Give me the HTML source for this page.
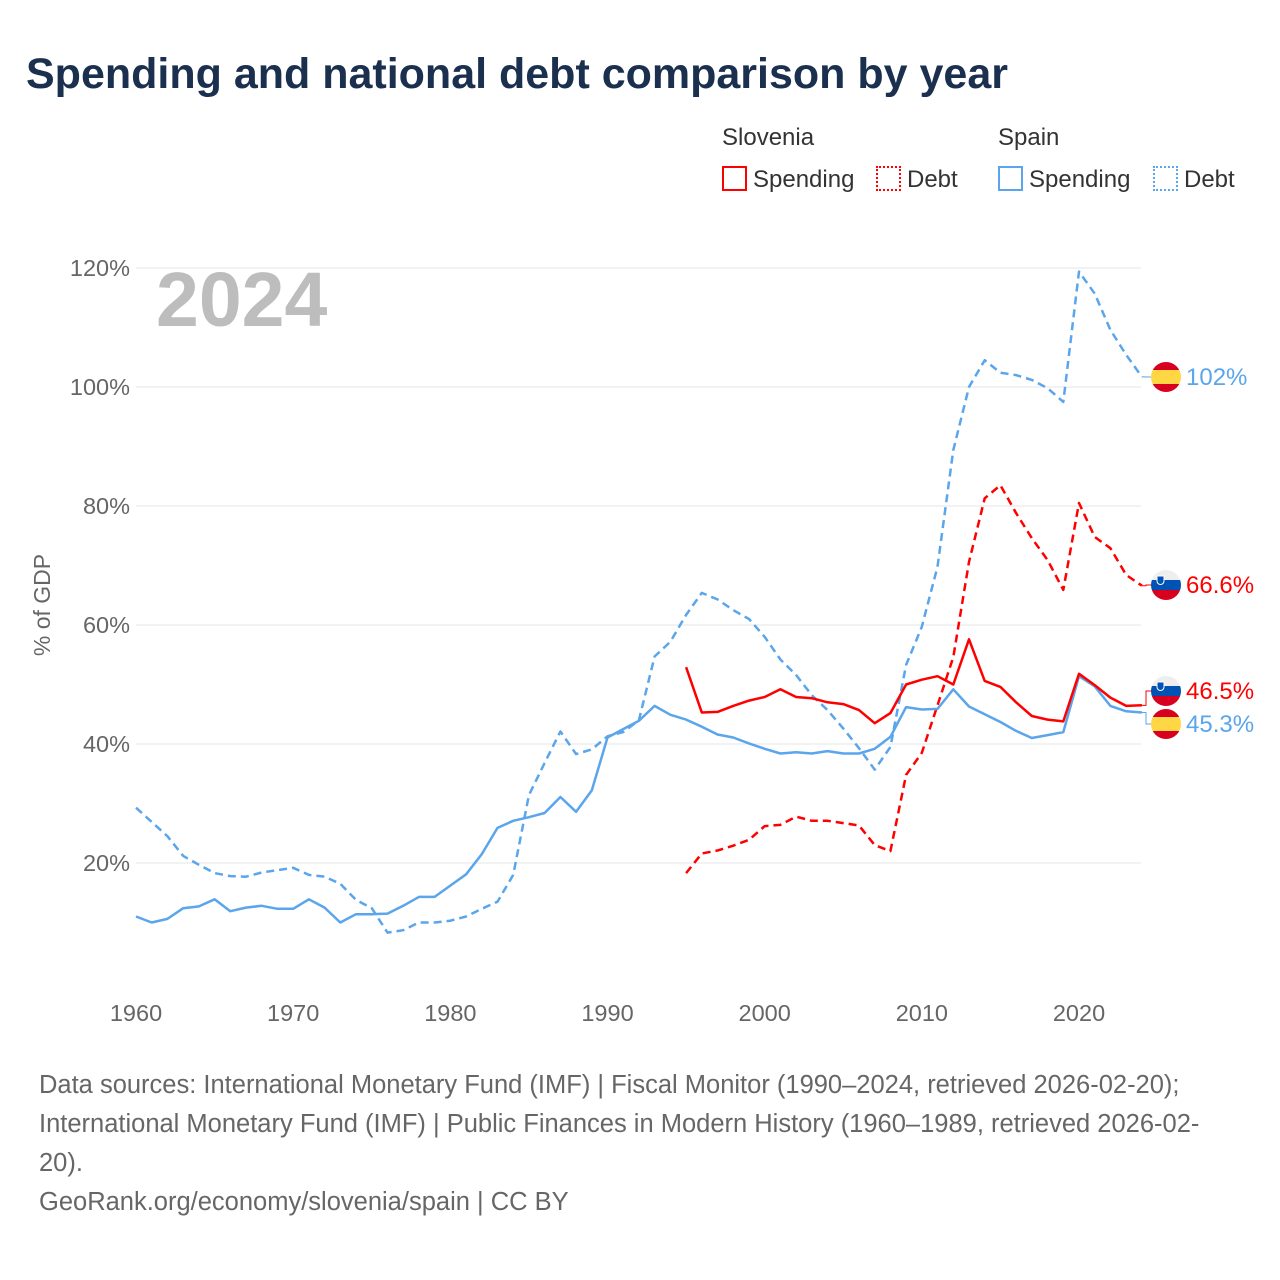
<!DOCTYPE html>
<html><head><meta charset="utf-8">
<style>
body{margin:0;background:#fff;font-family:"Liberation Sans",sans-serif;}
#wrap{position:relative;width:1280px;height:1280px;overflow:hidden;background:#fff}
.t{position:absolute;white-space:nowrap}
</style></head>
<body>
<div id="wrap">
<div class="t" style="left:26px;top:50px;font-size:43px;font-weight:bold;color:#1b2f4e;">Spending and national debt comparison by year</div>
<div class="t" style="left:722px;top:124px;font-size:24px;color:#333">Slovenia</div>
<div class="t" style="left:998px;top:124px;font-size:24px;color:#333">Spain</div>
<div class="t" style="left:722px;top:166px;font-size:24px;color:#333"><span style="display:inline-block;width:21px;height:21px;border:2px solid #f00;vertical-align:-4px;margin-right:6px"></span>Spending</div>
<div class="t" style="left:876px;top:166px;font-size:24px;color:#333"><span style="display:inline-block;width:21px;height:21px;border:2px dotted #f00;vertical-align:-4px;margin-right:6px"></span>Debt</div>
<div class="t" style="left:998px;top:166px;font-size:24px;color:#333"><span style="display:inline-block;width:21px;height:21px;border:2px solid #5aa5eb;vertical-align:-4px;margin-right:6px"></span>Spending</div>
<div class="t" style="left:1153px;top:166px;font-size:24px;color:#333"><span style="display:inline-block;width:21px;height:21px;border:2px dotted #5aa5eb;vertical-align:-4px;margin-right:6px"></span>Debt</div>
<svg id="chart" width="1280" height="1280" style="position:absolute;left:0;top:0" xmlns="http://www.w3.org/2000/svg"></svg>
<div class="t" style="left:39px;top:1066px;font-size:25.5px;line-height:39px;color:#666;">Data sources: International Monetary Fund (IMF) | Fiscal Monitor (1990–2024, retrieved 2026-02-20);<br>International Monetary Fund (IMF) | Public Finances in Modern History (1960–1989, retrieved 2026-02-<br>20).<br>GeoRank.org/economy/slovenia/spain | CC BY</div>
</div>
<script>
const years1960 = [1960,1961,1962,1963,1964,1965,1966,1967,1968,1969,1970,1971,1972,1973,1974,1975,1976,1977,1978,1979,1980,1981,1982,1983,1984,1985,1986,1987,1988,1989,1990,1991,1992,1993,1994,1995,1996,1997,1998,1999,2000,2001,2002,2003,2004,2005,2006,2007,2008,2009,2010,2011,2012,2013,2014,2015,2016,2017,2018,2019,2020,2021,2022,2023,2024];
const years1995 = [1995,1996,1997,1998,1999,2000,2001,2002,2003,2004,2005,2006,2007,2008,2009,2010,2011,2012,2013,2014,2015,2016,2017,2018,2019,2020,2021,2022,2023,2024];
const spainSpending = [11.0,10.0,10.6,12.4,12.7,13.9,11.9,12.5,12.8,12.3,12.3,13.9,12.5,10.0,11.4,11.4,11.5,12.8,14.3,14.3,16.2,18.1,21.5,25.9,27.1,27.7,28.4,31.1,28.6,32.2,41.1,42.5,43.9,46.4,44.9,44.1,42.9,41.6,41.1,40.1,39.2,38.4,38.6,38.4,38.8,38.4,38.4,39.2,41.2,46.2,45.8,45.9,49.2,46.3,45.0,43.7,42.2,41.0,41.5,42.0,51.4,49.7,46.4,45.5,45.3];
const spainDebt = [29.3,26.9,24.5,21.2,19.7,18.3,17.8,17.7,18.4,18.8,19.2,18.0,17.7,16.5,13.8,12.4,8.3,8.7,10.0,10.0,10.3,11.0,12.3,13.5,18.0,31.4,36.8,42.1,38.3,39.1,41.3,42.0,44.0,54.7,57.2,61.7,65.4,64.3,62.5,61.0,58.0,54.2,51.6,48.2,45.7,42.6,39.3,35.7,39.5,53.3,59.7,69.8,89.4,100.0,104.5,102.4,102.0,101.2,99.8,97.5,119.4,115.7,109.6,105.4,101.7];
const sloSpending = [52.9,45.3,45.4,46.4,47.3,47.9,49.2,47.9,47.7,47.0,46.7,45.7,43.5,45.2,50.0,50.8,51.4,50.0,57.6,50.6,49.6,47.0,44.7,44.1,43.8,51.8,49.9,47.8,46.4,46.5];
const sloDebt = [18.3,21.6,22.1,22.9,23.9,26.2,26.4,27.8,27.1,27.1,26.7,26.3,23.0,22.0,34.8,38.5,46.5,54.6,70.6,81.3,83.5,78.8,74.6,70.9,65.9,80.5,74.8,72.9,68.4,66.6];
const yTicks = [20,40,60,80,100,120];
const xTicks = [1960,1970,1980,1990,2000,2010,2020];

const svg = document.getElementById('chart');
const NS = 'http://www.w3.org/2000/svg';
const X0 = 136, Xstep = (1079-136)/60, Y0 = 982, Ystep = 5.95;
const xs = y => X0 + (y-1960)*Xstep;
const ys = v => Y0 - v*Ystep;
function mk(tag, attrs){const e=document.createElementNS(NS,tag);for(const k in attrs)e.setAttribute(k,attrs[k]);svg.appendChild(e);return e;}

yTicks.forEach(t=>{
  const g=mk('line',{x1:136,x2:1141,y1:ys(t),y2:ys(t),stroke:'#e6e6e6','stroke-width':1});
  
  
  const l=mk('text',{x:130,y:ys(t)+8,'text-anchor':'end','font-size':23.5,fill:'#666','font-family':'Liberation Sans, sans-serif'});
  l.textContent=t+'%';
  
  
});
xTicks.forEach(t=>{
  const l=mk('text',{x:xs(t),y:1021,'text-anchor':'middle','font-size':23.5,fill:'#666','font-family':'Liberation Sans, sans-serif'});
  l.textContent=t;
  
  
});
const yt=mk('text',{x:0,y:0,transform:'translate(50,605) rotate(-90)','text-anchor':'middle','font-size':23,fill:'#666','font-family':'Liberation Sans, sans-serif'});
yt.textContent='% of GDP';


const yr=mk('text',{x:156,y:326,'font-size':77,'font-weight':'bold',fill:'#bdbdbd','font-family':'Liberation Sans, sans-serif'});
yr.textContent='2024';



function line(years, vals, color, dash, name){
  const d=vals.map((v,i)=>(i?'L':'M')+xs(years[i]).toFixed(1)+','+ys(v).toFixed(1)).join(' ');
  const p=mk('path',{d:d,fill:'none',stroke:color,'stroke-width':2.5,'stroke-linejoin':'round'});
  if(dash) p.setAttribute('stroke-dasharray','8,5');
  
  
}
const BLUE='#5aa5eb', RED='#ff0000';
line(years1960, spainDebt, BLUE, true, 'spain-debt-line');
line(years1995, sloDebt, RED, true, 'slovenia-debt-line');
line(years1960, spainSpending, BLUE, false, 'spain-spending-line');
line(years1995, sloSpending, RED, false, 'slovenia-spending-line');

function endLabel(v, ly, color, flag, name, txt){
  const x1=xs(2024);
  const c=mk('path',{d:`M${x1},${ys(v)} H1146 V${ly} H1152`,fill:'none',stroke:color,'stroke-width':1});
  
  
  const cx=1166, r=15;
  const g=document.createElementNS(NS,'g');svg.appendChild(g);
  
  
  const cid='clip'+name;
  const cp=document.createElementNS(NS,'clipPath');cp.setAttribute('id',cid);
  const cc=document.createElementNS(NS,'circle');cc.setAttribute('cx',cx);cc.setAttribute('cy',ly);cc.setAttribute('r',r);cp.appendChild(cc);g.appendChild(cp);
  const stripes = flag==='es' ? [['#d7001f',0,8],['#ffd744',8,14],['#d7001f',22,8]] : [['#eee',0,10],['#0052b4',10,10],['#d7001f',20,10]];
  stripes.forEach(s=>{const rc=document.createElementNS(NS,'rect');rc.setAttribute('x',cx-r);rc.setAttribute('y',ly-r+s[1]);rc.setAttribute('width',2*r);rc.setAttribute('height',s[2]);rc.setAttribute('fill',s[0]);rc.setAttribute('clip-path',`url(#${cid})`);g.appendChild(rc);});
  if(flag==='si'){const sh=document.createElementNS(NS,'path');sh.setAttribute('d',`M${cx-9},${ly-9} h7 v5 a3.5,3.5 0 0 1 -7,0 z`);sh.setAttribute('fill','#0052b4');sh.setAttribute('stroke','#fff');sh.setAttribute('stroke-width',1);g.appendChild(sh);}
  const t=mk('text',{x:1186,y:ly+8,'font-size':24,fill:color,'font-family':'Liberation Sans, sans-serif'});
  t.textContent=txt;
  
  
}
endLabel(spainDebt[spainDebt.length-1],377,BLUE,'es','spain-debt','102%');
endLabel(sloDebt[sloDebt.length-1],585,RED,'si','slovenia-debt','66.6%');
endLabel(sloSpending[sloSpending.length-1],691,RED,'si','slovenia-spending','46.5%');
endLabel(spainSpending[spainSpending.length-1],724,BLUE,'es','spain-spending','45.3%');
</script>
</body></html>
